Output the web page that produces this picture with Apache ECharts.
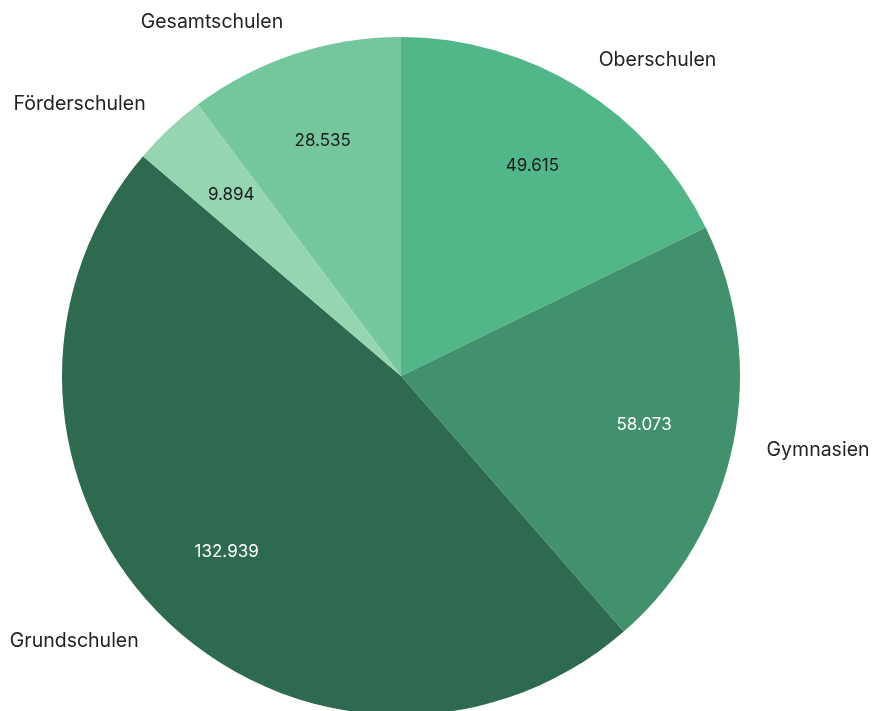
<!DOCTYPE html>
<html>
<head>
<meta charset="utf-8">
<script src="https://cdn.jsdelivr.net/npm/echarts@6/dist/echarts.min.js"></script>
<style>
  html, body { margin: 0; padding: 0; background: #fff; }
  #chart { width: 873px; height: 711px; }
</style>
</head>
<body>
<div id="chart"></div>
<script>
  // Schülerzahlen nach Schulart
  const categories = ['Oberschulen', 'Gymnasien', 'Grundschulen', 'Förderschulen', 'Gesamtschulen'];
  const values = [49615, 58073, 132939, 9894, 28535];
  const colors = ['#52b788', '#40916c', '#2d6a4f', '#95d5b2', '#74c69d'];
  const valueTextColors = ['#1b1b1b', '#ffffff', '#ffffff', '#1b1b1b', '#1b1b1b'];

  const fmt = v => String(v).replace(/\B(?=(\d{3})+(?!\d))/g, '.');

  const chart = echarts.init(document.getElementById('chart'));
  const font = 'Inter, sans-serif';

  chart.setOption({
    animation: false,
    series: [
      {
        // Kreis mit Beschriftung außen
        type: 'pie',
        center: [401, 376],
        radius: 339,
        startAngle: 90,
        clockwise: true,
        avoidLabelOverlap: false,
        silent: true,
        data: categories.map((c, i) => ({
          name: c,
          value: values[i],
          itemStyle: { color: colors[i] }
        })),
        label: {
          show: true,
          position: 'outside',
          formatter: '{b}',
          fontFamily: font,
          fontSize: 19.5,
          color: '#222',
          distanceToLabelLine: 0
        },
        labelLine: { show: false, length: 34, length2: 0 }
      },
      {
        // nur für die Werte innen
        type: 'pie',
        center: [401, 376],
        radius: 490,
        startAngle: 90,
        clockwise: true,
        silent: true,
        z: 3,
        data: categories.map((c, i) => ({
          name: c,
          value: values[i],
          itemStyle: { color: 'transparent' },
          label: { color: valueTextColors[i] }
        })),
        label: {
          show: true,
          position: 'inside',
          formatter: p => fmt(p.value),
          fontFamily: font,
          fontSize: 17
        },
        labelLine: { show: false }
      }
    ]
  });

  window.addEventListener('resize', function () {
    chart.resize();
  });
</script>
</body>
</html>
